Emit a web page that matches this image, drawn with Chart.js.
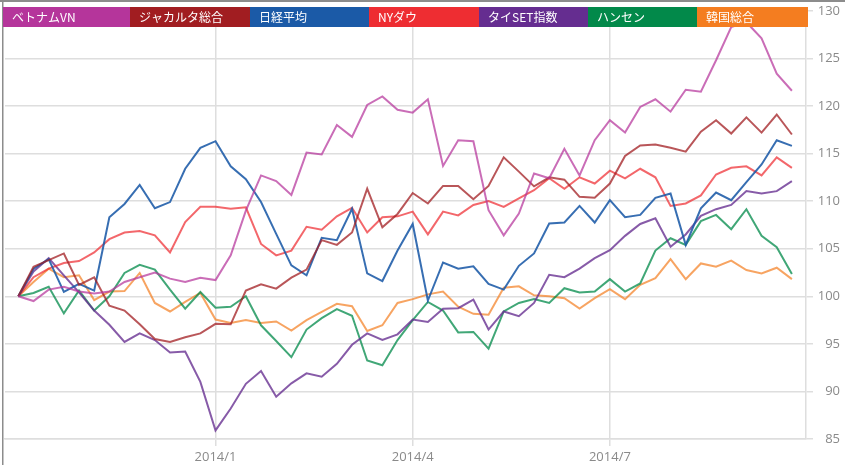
<!DOCTYPE html>
<html><head><meta charset="utf-8">
<script src="https://cdn.jsdelivr.net/npm/chart.js@4"></script>
<style>html,body{margin:0;padding:0;background:#fff;}canvas{display:block;}</style>
</head><body>
<canvas id="c" width="845" height="465"></canvas>
<script>
// ---- data ----
const seriesNames = ['ベトナムVN','ジャカルタ総合','日経平均','NYダウ','タイSET指数','ハンセン','韓国総合'];
const weekIndex = Array.from({length:52},(_,i)=>i); // weekly observations
const tickIndices = [13, 26, 39];
const tickLabels = ['2014/1','2014/4','2014/7'];

const vietnam = [100,99.5,100.7,101.0,100.5,100.3,100.5,101.5,102.0,102.5,101.85,101.5,101.95,101.7,104.3,109.0,112.7,112.1,110.65,115.1,114.9,118.0,116.75,120.1,121.0,119.6,119.3,120.7,113.7,116.4,116.3,109.05,106.4,108.7,112.9,112.4,115.5,112.7,116.4,118.5,117.2,119.9,120.7,119.4,121.7,121.5,124.8,128.3,128.8,127.1,123.4,121.6];
const jakarta = [100,103.1,103.8,104.5,101.2,102.0,99.0,98.5,97.05,95.5,95.2,95.7,96.1,97.1,97.05,100.6,101.25,100.8,101.95,102.8,105.9,105.4,106.7,111.3,107.25,108.65,110.85,109.75,111.6,111.6,110.2,111.6,114.6,113.1,111.55,112.5,112.25,110.45,110.35,111.85,114.75,115.85,115.95,115.6,115.2,117.3,118.5,117.1,118.8,117.2,119.1,117.0];
const nikkei = [100,102.9,103.9,100.45,101.3,100.6,108.3,109.7,111.7,109.25,109.9,113.4,115.6,116.3,113.65,112.3,109.9,106.55,103.25,102.2,106.15,105.9,109.2,102.4,101.6,104.8,107.6,99.55,103.55,102.9,103.15,101.3,100.7,103.2,104.5,107.65,107.75,109.5,107.75,110.1,108.3,108.55,110.35,110.8,105.4,109.25,110.9,110.1,112.0,113.85,116.4,115.8];
const nyDow = [100,102.0,102.9,103.5,103.7,104.6,106.0,106.7,106.85,106.4,104.6,107.8,109.4,109.4,109.2,109.35,105.5,104.3,104.8,107.3,107.0,108.4,109.3,106.7,108.3,108.4,108.9,106.5,108.9,108.5,109.6,110.0,109.4,110.3,111.15,112.4,111.3,112.5,111.85,113.2,112.4,113.4,112.5,109.5,109.75,110.6,112.8,113.5,113.65,112.7,114.6,113.5];
const thaiSet = [100,102.6,104.0,102.2,100.4,98.5,97.0,95.2,96.1,95.4,94.1,94.2,91.0,85.9,88.2,90.8,92.15,89.45,90.85,91.9,91.55,92.9,94.9,96.1,95.4,96.0,97.55,97.3,98.7,98.75,99.65,96.5,98.4,97.9,99.3,102.25,102.0,102.9,104.0,104.85,106.35,107.6,108.2,105.2,106.5,108.45,109.15,109.6,111.05,110.8,111.05,112.1];
const hangSeng = [100,100.35,101.0,98.2,100.6,98.5,100.0,102.45,103.3,102.8,100.7,98.7,100.45,98.8,98.9,100.0,96.95,95.3,93.6,96.5,97.7,98.65,97.95,93.25,92.75,95.4,97.5,99.4,98.5,96.2,96.25,94.5,98.4,99.3,99.7,99.3,100.85,100.4,100.5,101.8,100.5,101.35,104.8,106.1,105.4,107.9,108.55,107.05,109.15,106.35,105.15,102.35];
const kospi = [100,101.5,102.9,102.0,102.2,99.6,100.5,100.55,102.45,99.3,98.4,99.4,100.35,97.55,97.2,97.5,97.2,97.35,96.4,97.5,98.35,99.2,98.95,96.35,96.95,99.3,99.7,100.2,100.5,98.9,98.15,98.05,100.9,101.05,100.1,100.0,99.8,98.7,99.8,100.75,99.7,101.2,101.9,103.9,101.8,103.45,103.1,103.75,102.75,102.4,103.0,101.8];

const seriesValues = [vietnam, jakarta, nikkei, nyDow, thaiSet, hangSeng, kospi];

// ---- styles ----
const legendColors = ['#B5359B','#A11D21','#1B5AA7','#EE2D32','#652D90','#02894A','#F47D20'];
const lineAlpha = [0.72,0.75,0.88,0.72,0.78,0.75,0.7];
function rgba(hex,a){const n=parseInt(hex.slice(1),16);return `rgba(${n>>16&255},${n>>8&255},${n&255},${a})`;}
const legendEdges = [3,130,250,369,479,588,697,808];

const datasets = seriesNames.map((name,k)=>({
  label: name,
  data: weekIndex.map(i=>({x:i,y:seriesValues[k][i]})),
  borderColor: rgba(legendColors[k], lineAlpha[k]),
  backgroundColor: legendColors[k],
  borderWidth: 2,
  pointRadius: 0,
  tension: 0,
  fill: false
}));

const framePlugin = {
  id:'frame',
  beforeDraw(chart){
    const ctx = chart.ctx;
    ctx.save();
    ctx.fillStyle='#fff';
    ctx.fillRect(0,0,chart.width,chart.height);
    ctx.fillStyle='#8c8c8c';
    ctx.fillRect(0,0,chart.width,2);
    ctx.fillRect(2,0,1.5,chart.height);
    ctx.restore();
  }
};
const boxLegend = {
  id:'boxLegend',
  afterDraw(chart){
    const ctx = chart.ctx;
    ctx.save();
    const top=7, h=20;
    seriesNames.forEach((name,k)=>{
      const x0=legendEdges[k], x1=legendEdges[k+1];
      ctx.fillStyle=legendColors[k];
      ctx.fillRect(x0,top,x1-x0,h);
      ctx.fillStyle='#fff';
      ctx.font='12px "Noto Sans CJK JP", sans-serif';
      ctx.textBaseline='middle';
      ctx.textAlign='left';
      ctx.fillText(name,x0+9,top+h/2);
    });
    ctx.restore();
  }
};

new Chart(document.getElementById('c'),{
  type:'line',
  data:{datasets},
  plugins:[framePlugin, boxLegend],
  options:{
    responsive:false,
    animation:false,
    devicePixelRatio:1,
    layout:{padding:{left:5,top:9,right:5,bottom:0}},
    plugins:{legend:{display:false},tooltip:{enabled:false}},
    scales:{
      x:{
        type:'linear',
        min:-0.88, max:51.93,
        afterBuildTicks(scale){ scale.ticks = tickIndices.map(v=>({value:v})); },
        afterFit(scale){ scale.height = 26; },
        grid:{color:'#dedede',lineWidth:1.5,tickLength:7,drawTicks:true},
        border:{color:'#dedede',width:1.5},
        ticks:{
          autoSkip:false,maxRotation:0,padding:3,
          color:'#8a8a8a',
          font:{family:'"Open Sans", sans-serif',size:13},
          callback(v){ const j=tickIndices.indexOf(v); return j>=0?tickLabels[j]:''; }
        }
      },
      y:{
        position:'right',
        min:85,max:130,
        afterFit(scale){ scale.width = 34; },
        grid:{color:'#dedede',lineWidth:1.5,tickLength:7},
        border:{color:'#dedede',width:1.5},
        ticks:{
          stepSize:5,
          crossAlign:'far',
          color:'#8a8a8a',
          font:{family:'"Open Sans", sans-serif',size:13}
        }
      }
    }
  }
});
</script>
</body></html>
